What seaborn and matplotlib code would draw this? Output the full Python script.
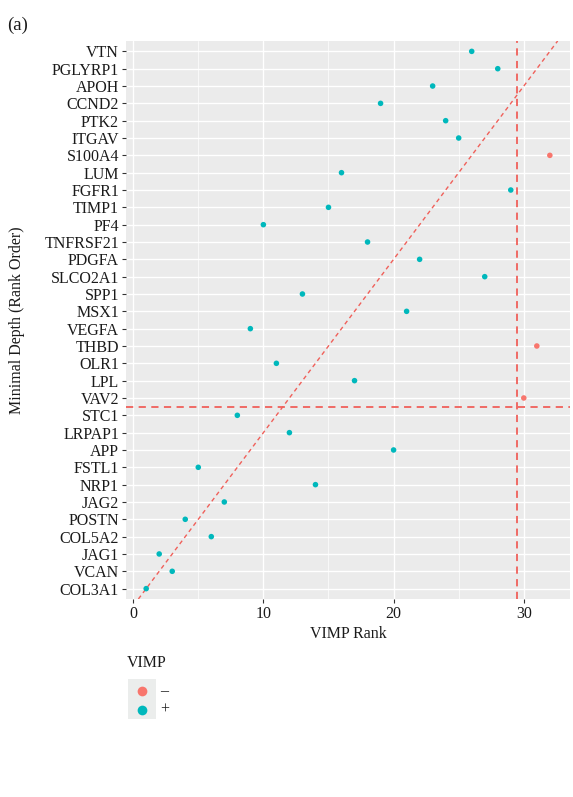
import matplotlib
matplotlib.use("Agg")
import matplotlib.pyplot as plt
import seaborn as sns
import pandas as pd
from matplotlib.patches import Rectangle
from matplotlib.lines import Line2D

genes = ["COL3A1", "VCAN", "JAG1", "COL5A2", "POSTN", "JAG2", "NRP1", "FSTL1",
         "APP", "LRPAP1", "STC1", "VAV2", "LPL", "OLR1", "THBD", "VEGFA",
         "MSX1", "SPP1", "SLCO2A1", "PDGFA", "TNFRSF21", "PF4", "TIMP1", "FGFR1",
         "LUM", "S100A4", "ITGAV", "PTK2", "CCND2", "APOH", "PGLYRP1", "VTN"]
vimp_rank = [1, 3, 2, 6, 4, 7, 14, 5, 20, 12, 8, 30, 17, 11, 31, 9,
             21, 13, 27, 22, 18, 10, 15, 29, 16, 32, 25, 24, 19, 23, 28, 26]
vimp_sign = ["+"] * len(genes)
for g in ["VAV2", "THBD", "S100A4"]:
    vimp_sign[genes.index(g)] = "\u2013"
vline_x = 29.5
hline_y = 11.5
x_ticks = [0, 10, 20, 30]

depth = list(range(1, len(genes) + 1))
df = pd.DataFrame({"gene": genes, "rank": vimp_rank, "depth": depth, "VIMP": vimp_sign})

sns.set_theme(style="darkgrid")
plt.rcParams["font.family"] = ["Liberation Serif", "DejaVu Serif"]

fig = plt.figure(figsize=(5.73, 7.97), dpi=100)
ax = fig.add_axes([0.2199, 0.2484, 0.9948 - 0.2199, 0.9486 - 0.2484])
ax.set_facecolor("#EBEBEB")

palette = {"\u2013": "#F8766D", "+": "#00B8BC"}
line_col = "#F0605A"

ax.axline((0, 0), slope=1, color=line_col, lw=1.0, ls=(0, (3, 2.5)), zorder=2)
ax.axvline(vline_x, color=line_col, lw=1.3, ls=(0, (4, 3)), zorder=2)
ax.axhline(hline_y, color=line_col, lw=1.3, ls=(0, (4, 3)), zorder=2)

sns.scatterplot(data=df, x="rank", y="depth", hue="VIMP", palette=palette,
                s=16, edgecolor="none", legend=False, ax=ax, zorder=3)

ax.set_xlim(1 - 0.05 * 31, 32 + 0.05 * 31)
ax.set_ylim(0.4, len(genes) + 0.6)
ax.set_xticks(x_ticks)
ax.set_xticks([5, 15, 25], minor=True)
ax.set_yticks(depth)
ax.set_yticklabels(genes)
ax.grid(which="major", color="white", lw=1.0)
ax.grid(which="minor", axis="x", color="white", lw=0.5)
ax.tick_params(axis="both", which="major", length=3, width=0.8, color="#333333",
               labelsize=11.5, labelcolor="#1A1A1A", pad=2, left=True, bottom=True)
ax.tick_params(which="minor", length=0)
for s in ax.spines.values():
    s.set_visible(False)
ax.set_xlabel("VIMP Rank", fontsize=11.5, color="#1A1A1A")
ax.set_ylabel("Minimal Depth (Rank Order)", fontsize=11.5, color="#1A1A1A")
ax.xaxis.set_label_coords((348 - 126) / 444, -(626 - 599) / 558)
ax.yaxis.set_label_coords(-(126 - 25) / 444, (599 - 320) / 558)

fig.text(0.012, 0.968, "(a)", fontsize=13.5, color="#1A1A1A", ha="left", va="center")

# legend
fig.text(127 / 573, 1 - 663 / 797, "VIMP", fontsize=11.5, color="#1A1A1A", ha="left", va="center")
fig.patches.append(Rectangle((128 / 573, 1 - 719 / 797), 28 / 573, 40 / 797,
                             transform=fig.transFigure, facecolor="#EBEDEC",
                             edgecolor="none"))
for yy, lab in [(691, "\u2013"), (710, "+")]:
    fig.add_artist(Line2D([142 / 573], [1 - yy / 797], marker="o", markersize=7,
                          color=palette[lab], markeredgecolor="none", linestyle="none",
                          transform=fig.transFigure))
    fig.text(160 / 573, 1 - yy / 797, lab, fontsize=11.5, color="#1A1A1A",
             ha="left", va="center")

fig.savefig("out.png", dpi=100)
